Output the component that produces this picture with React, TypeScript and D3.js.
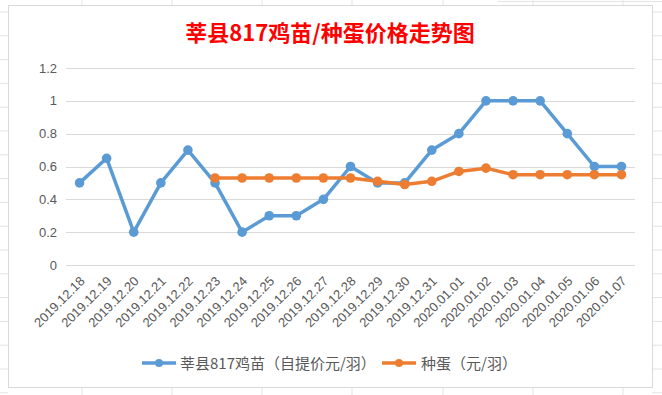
import * as d3 from "d3";

const dates = [
  "2019.12.18", "2019.12.19", "2019.12.20", "2019.12.21", "2019.12.22",
  "2019.12.23", "2019.12.24", "2019.12.25", "2019.12.26", "2019.12.27",
  "2019.12.28", "2019.12.29", "2019.12.30", "2019.12.31", "2020.01.01",
  "2020.01.02", "2020.01.03", "2020.01.04", "2020.01.05", "2020.01.06",
  "2020.01.07",
];

const chickPrice = [
  0.5, 0.65, 0.2, 0.5, 0.7, 0.5, 0.2, 0.3, 0.3, 0.4, 0.6, 0.5, 0.5, 0.7, 0.8,
  1, 1, 1, 0.8, 0.6, 0.6,
];

const eggPrice: (number | null)[] = [
  null, null, null, null, null, 0.53, 0.53, 0.53, 0.53, 0.53, 0.53, 0.51,
  0.49, 0.51, 0.57, 0.59, 0.55, 0.55, 0.55, 0.55, 0.55,
];

const yTicks = [0, 0.2, 0.4, 0.6, 0.8, 1, 1.2];

const seriesNames = ["莘县817鸡苗（自提价元/羽）", "种蛋（元/羽）"];
const title = "莘县817鸡苗/种蛋价格走势图";

// faint spreadsheet cells behind the chart box
const sheetCols = [82, 172, 262, 352, 443, 533, 623];
const sheetRows = d3.range(12, 395, 23.8);

const width = 662;
const height = 395;
const box = { left: 8, top: 5, right: 652, bottom: 387 };
const plot = { left: 66, right: 635, top: 68, bottom: 265 };

const blue = "#5B9BD5";
const orange = "#ED7D31";
const axisText = "#595959";

export default function App() {
  const x = d3
    .scaleBand<string>()
    .domain(dates)
    .range([plot.left, plot.right])
    .padding(0);
  const cx = (d: string) => (x(d) ?? 0) + x.bandwidth() / 2;

  const y = d3.scaleLinear().domain([0, 1.2]).range([plot.bottom, plot.top]);

  const line = d3
    .line<number | null>()
    .defined((d) => d != null)
    .x((_, i) => cx(dates[i]))
    .y((d) => y(d as number));

  const series = [
    { name: seriesNames[0], values: chickPrice as (number | null)[], color: blue },
    { name: seriesNames[1], values: eggPrice, color: orange },
  ];

  const legend = [
    { x: 142, textX: 180 },
    { x: 382, textX: 421 },
  ];

  return (
    <svg
      width={width}
      height={height}
      style={{ position: "absolute", left: 0, top: 0, background: "#fff" }}
      fontFamily="'Liberation Sans', 'Noto Sans CJK SC', sans-serif"
    >
      {/* sheet background ticks */}
      <g stroke="#e3e3e3" strokeWidth={1}>
        {sheetRows.map((r) => (
          <g key={r}>
            <line x1={0} x2={box.left} y1={r} y2={r} />
            <line x1={box.right} x2={width} y1={r} y2={r} />
          </g>
        ))}
        {sheetCols.map((c) => (
          <g key={c}>
            <line x1={c} x2={c} y1={0} y2={box.top} />
            <line x1={c} x2={c} y1={box.bottom} y2={height} />
          </g>
        ))}
        <line x1={498} x2={width} y1={1.5} y2={1.5} />
      </g>

      <rect
        x={box.left + 0.5}
        y={box.top + 0.5}
        width={box.right - box.left}
        height={box.bottom - box.top}
        fill="#fff"
        stroke="#d9d9d9"
      />

      <text
        x={330}
        y={41}
        textAnchor="middle"
        fill="#FF0000"
        fontSize={22}
        fontWeight="bold"
        fontFamily="'Noto Sans CJK SC', sans-serif"
      >
        {title}
      </text>

      {/* gridlines + y labels */}
      {yTicks.map((t) => (
        <g key={t}>
          <line
            x1={plot.left}
            x2={plot.right}
            y1={Math.round(y(t)) + 0.5}
            y2={Math.round(y(t)) + 0.5}
            stroke="#d9d9d9"
          />
          <text
            x={57}
            y={y(t) + 4.5}
            textAnchor="end"
            fontSize={13}
            fill={axisText}
          >
            {t}
          </text>
        </g>
      ))}

      {/* x labels */}
      {dates.map((d) => (
        <text
          key={d}
          transform={`translate(${cx(d) + 6},${plot.bottom + 17}) rotate(-45)`}
          textAnchor="end"
          fontSize={13}
          fill={axisText}
        >
          {d}
        </text>
      ))}

      {series.map((s) => (
        <g key={s.name}>
          <path
            d={line(s.values) ?? ""}
            fill="none"
            stroke={s.color}
            strokeWidth={3.5}
            strokeLinejoin="round"
          />
          {s.values.map((v, i) =>
            v == null ? null : (
              <circle key={i} cx={cx(dates[i])} cy={y(v)} r={4.8} fill={s.color} />
            )
          )}
        </g>
      ))}

      {/* legend */}
      {series.map((s, i) => (
        <g key={s.name}>
          <line
            x1={legend[i].x}
            x2={legend[i].x + 34}
            y1={363}
            y2={363}
            stroke={s.color}
            strokeWidth={3.5}
          />
          <circle cx={legend[i].x + 17} cy={363} r={4} fill={s.color} />
          <text
            x={legend[i].textX}
            y={368.5}
            fontSize={15}
            fill={axisText}
            fontFamily="'Noto Sans CJK SC', sans-serif"
          >
            {s.name}
          </text>
        </g>
      ))}
    </svg>
  );
}
